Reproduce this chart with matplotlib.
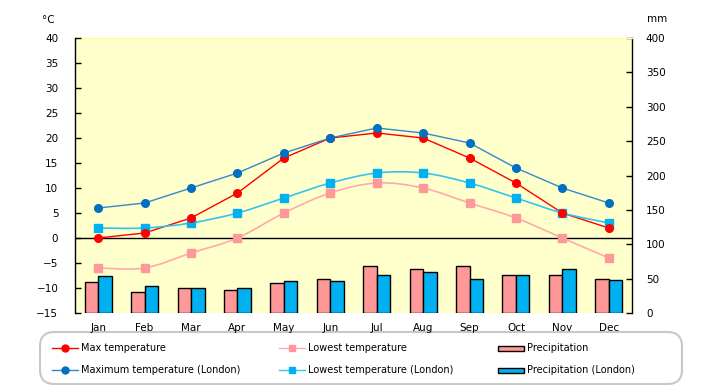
import matplotlib
matplotlib.use("Agg")
import matplotlib.pyplot as plt
from matplotlib.path import Path
from matplotlib.patches import PathPatch, FancyBboxPatch, Rectangle
from matplotlib.lines import Line2D
import numpy as np

months = ["Jan", "Feb", "Mar", "Apr", "May", "Jun", "Jul", "Aug", "Sep", "Oct", "Nov", "Dec"]
max_temp = [0, 1, 4, 9, 16, 20, 21, 20, 16, 11, 5, 2]
max_temp_london = [6, 7, 10, 13, 17, 20, 22, 21, 19, 14, 10, 7]
low_temp = [-6, -6, -3, 0, 5, 9, 11, 10, 7, 4, 0, -4]
low_temp_london = [2, 2, 3, 5, 8, 11, 13, 13, 11, 8, 5, 3]
precip = [45, 30, 36, 34, 44, 50, 69, 64, 69, 56, 56, 50]
precip_london = [54, 40, 37, 37, 46, 46, 56, 59, 50, 56, 64, 48]
temp_ticks = list(range(-15, 41, 5))
precip_ticks = list(range(0, 401, 50))

RED = "#FF0000"
DBLUE = "#0070C0"
DBLUE_L = "#3388CC"
PINK = "#FF9999"
PINK_L = "#FFAAAA"
CYAN = "#00B0F0"
CYAN_L = "#33C4F0"
BG = "#FFFFCC"

plt.rcParams['font.family'] = ['DejaVu Sans']
fig = plt.figure(figsize=(7.2, 3.85), dpi=100)
L, R, B, T = 75 / 720, 632 / 720, 1 - 313 / 385, 1 - 38 / 385
ax = fig.add_axes([L, B, R - L, T - B])
ax2 = ax.twinx()
ax.set_zorder(ax2.get_zorder() + 1)
ax.patch.set_visible(False)
ax2.patch.set_visible(True)
ax2.patch.set_facecolor(BG)

x = np.arange(len(months))
w = 0.29
ax2.bar(x - w / 2, precip, width=w, color=PINK, edgecolor="black", linewidth=1, zorder=2)
ax2.bar(x + w / 2, precip_london, width=w, color=CYAN, edgecolor="black", linewidth=1, zorder=2)
ax2.set_ylim(0, 400)
ax2.set_yticks(precip_ticks)

ax.set_xlim(-0.5, 11.5)
ax.set_ylim(-15, 40)
ax.set_yticks(temp_ticks)
ax.set_xticks(x)
ax.set_xticklabels(months)
ax.axhline(0, color="black", lw=1, zorder=1)


def smooth_path(xs, ys):
    pts = np.column_stack([xs, ys]).astype(float)
    n = len(pts)
    verts = [pts[0]]
    codes = [Path.MOVETO]
    for i in range(n - 1):
        p0 = pts[i - 1] if i > 0 else pts[i]
        p1 = pts[i]
        p2 = pts[i + 1]
        p3 = pts[i + 2] if i + 2 < n else pts[i + 1]
        c1 = p1 + (p2 - p0) / 6.0
        c2 = p2 - (p3 - p1) / 6.0
        verts += [c1, c2, p2]
        codes += [Path.CURVE4] * 3
    return Path(verts, codes)


ax.plot(x, max_temp, color=RED, lw=1, zorder=3)
ax.plot(x, max_temp_london, color=DBLUE_L, lw=1, zorder=3)
ax.add_patch(PathPatch(smooth_path(x, low_temp), fill=False, edgecolor=PINK_L, lw=1.2, zorder=3))
ax.add_patch(PathPatch(smooth_path(x, low_temp_london), fill=False, edgecolor=CYAN_L, lw=1.2, zorder=3))
ax.plot(x, low_temp, ls="none", marker="s", ms=5.5, color=PINK, zorder=4)
ax.plot(x, low_temp_london, ls="none", marker="s", ms=5.5, color=CYAN, zorder=4)
ax.plot(x, max_temp, ls="none", marker="o", ms=5.5, color=RED, zorder=5)
ax.plot(x, max_temp_london, ls="none", marker="o", ms=5.5, color=DBLUE, zorder=5)

for a in (ax, ax2):
    for s in ("top", "bottom", "left", "right"):
        a.spines[s].set_visible(False)
ax.spines["left"].set_visible(True)
ax2.spines["right"].set_visible(True)
ax.spines["left"].set_linewidth(1)
ax2.spines["right"].set_linewidth(1)
ax.plot([0, 1], [1, 1], transform=ax.transAxes, color="#FFFF99", lw=1, clip_on=False, zorder=0)

ax.tick_params(axis="y", direction="in", length=4, width=1, labelsize=7.5, pad=12)
ax2.tick_params(axis="y", direction="in", length=4, width=1, labelsize=7.5, pad=10)
ax.tick_params(axis="x", length=0, labelsize=7.5, pad=7)

fig.text(48 / 720, 1 - 20 / 385, "°C", fontsize=7.5, ha="center", va="center")
fig.text(657 / 720, 1 - 19 / 385, "mm", fontsize=7.5, ha="center", va="center")

# legend box
W, H = 720.0, 385.0
box = FancyBboxPatch((40 / W, 1 - 384 / H), (682 - 40) / W, (384 - 332) / H,
                     boxstyle="round,pad=0,rounding_size=0.02", transform=fig.transFigure,
                     facecolor="white", edgecolor="#C8C8C8", lw=1.5, mutation_aspect=W / H)
fig.add_artist(box)

rows = [348, 370]
entries = [
    (52, rows[0], "line", RED, RED, "o", "Max temperature"),
    (52, rows[1], "line", DBLUE_L, DBLUE, "o", "Maximum temperature (London)"),
    (279, rows[0], "line", PINK_L, PINK, "s", "Lowest temperature"),
    (279, rows[1], "line", CYAN_L, CYAN, "s", "Lowest temperature (London)"),
    (498, rows[0], "bar", None, PINK, None, "Precipitation"),
    (498, rows[1], "bar", None, CYAN, None, "Precipitation (London)"),
]
for x0, y0, kind, lc, mc, mk, label in entries:
    yf = 1 - y0 / H
    if kind == "line":
        fig.add_artist(Line2D([x0 / W, (x0 + 26) / W], [yf, yf], color=lc, lw=1,
                              transform=fig.transFigure))
        fig.add_artist(Line2D([(x0 + 13) / W], [yf], color=mc, marker=mk, ms=5,
                              ls="none", transform=fig.transFigure))
        tx = x0 + 29
    else:
        fig.add_artist(Rectangle((x0 / W, yf - 2.5 / H), 26 / W, 5 / H, facecolor=mc,
                                 edgecolor="black", lw=1, transform=fig.transFigure))
        tx = x0 + 29
    fig.text(tx / W, yf, label, fontsize=7, ha="left", va="center")

fig.savefig("out.png", dpi=100, facecolor="white")
